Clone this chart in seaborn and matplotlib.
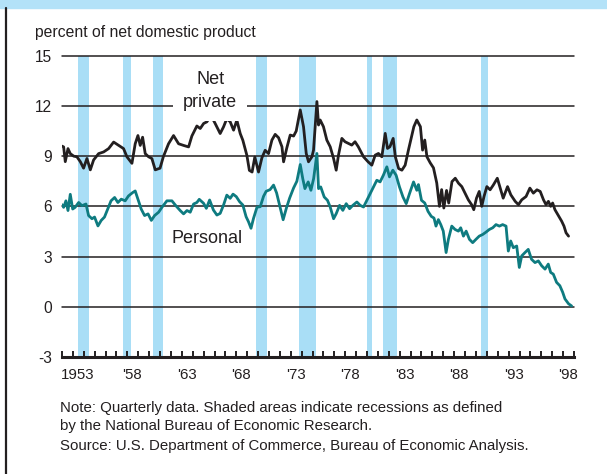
import pandas as pd
import matplotlib
matplotlib.use('Agg')
import matplotlib.pyplot as plt
from matplotlib.patches import Rectangle
from matplotlib.lines import Line2D
import seaborn as sns

# Net private saving, percent of NDP
net_years = [
    1952.0, 1952.15, 1952.3, 1952.55, 1952.76, 1953.07, 1953.37, 1953.68, 1953.98, 1954.29,
    1954.6, 1954.9, 1955.36, 1955.82, 1956.28, 1956.74, 1957.2, 1957.65, 1957.96, 1958.42,
    1958.72, 1958.97, 1959.18, 1959.4, 1959.64, 1959.95, 1960.25, 1960.56, 1961.0, 1961.3,
    1961.78, 1962.24, 1962.7, 1963.16, 1963.62, 1963.92, 1964.38, 1964.69, 1965.0, 1965.3,
    1965.67, 1966.06, 1966.52, 1966.83, 1967.13, 1967.44, 1967.75, 1968.05, 1968.36, 1968.6,
    1968.97, 1969.2, 1969.45, 1969.7, 1970.04, 1970.35, 1970.65, 1970.96, 1971.27, 1971.57,
    1971.88, 1972.19, 1972.34, 1972.64, 1972.95, 1973.26, 1973.5, 1973.87, 1974.17, 1974.42,
    1974.63, 1974.94, 1975.09, 1975.4, 1975.55, 1975.7, 1976.0, 1976.31, 1976.62, 1976.93,
    1977.17, 1977.38, 1977.69, 1977.98, 1978.3, 1978.6, 1978.9, 1979.2, 1979.68, 1980.1,
    1980.44, 1980.75, 1981.05, 1981.36, 1981.67, 1981.88, 1982.1, 1982.4, 1982.6, 1982.9,
    1983.2, 1983.5, 1983.8, 1984.3, 1984.57, 1984.9, 1985.1, 1985.3, 1985.5, 1985.8,
    1986.1, 1986.4, 1986.65, 1986.85, 1987.05, 1987.3, 1987.5, 1987.8, 1988.1, 1988.4,
    1988.7, 1989.0, 1989.3, 1989.6, 1989.8, 1990.05, 1990.3, 1990.53, 1990.74, 1991.0,
    1991.3, 1991.6, 1991.96, 1992.27, 1992.5, 1992.9, 1993.2, 1993.6, 1993.9, 1994.2,
    1994.6, 1994.95, 1995.27, 1995.6, 1995.9, 1996.2, 1996.43, 1996.65, 1996.86, 1997.04,
    1997.25, 1997.6, 1997.87, 1998.08, 1998.27, 1998.5,
]
net_values = [
    9.6, 9.55, 8.67, 9.45, 9.15, 9.0, 8.96, 8.67, 8.28, 8.86,
    8.18, 8.77, 9.15, 9.25, 9.45, 9.84, 9.64, 9.45, 8.96, 8.57,
    9.74, 10.23, 9.64, 10.13, 9.15, 8.96, 8.86, 8.18, 8.28, 8.96,
    9.74, 10.23, 9.74, 9.64, 9.55, 10.2, 10.8, 10.65, 10.95, 11.05,
    11.44, 10.95, 10.35, 10.75, 11.24, 11.05, 10.55, 11.15, 10.35, 9.95,
    9.05, 8.15, 8.05, 8.95, 8.05, 8.9, 9.35, 9.15, 9.96, 10.3,
    10.1, 9.56, 8.66, 9.5, 10.26, 10.2, 10.5, 11.76, 10.76, 9.16,
    8.66, 8.96, 9.36, 12.26, 10.86, 11.16, 10.76, 9.96, 9.56, 8.86,
    8.16, 9.06, 10.06, 9.86, 9.76, 9.66, 9.86, 9.56, 8.96, 8.66,
    8.46, 9.06, 9.16, 8.96, 10.36, 9.46, 9.56, 10.06, 8.96, 8.26,
    8.16, 8.46, 9.36, 10.76, 11.16, 10.76, 9.36, 9.96, 8.96, 8.6,
    8.3, 7.4, 6.0, 7.0, 5.9, 6.95, 6.2, 7.48, 7.68, 7.38,
    7.18, 6.79, 6.39, 6.1, 5.8, 6.49, 6.89, 6.0, 6.59, 7.18,
    6.99, 7.28, 7.68, 6.99, 6.49, 7.18, 6.69, 6.3, 6.1, 6.39,
    6.59, 7.09, 6.79, 6.99, 6.89, 6.39, 6.1, 6.3, 6.0, 6.2,
    5.8, 5.41, 5.11, 4.82, 4.42, 4.22,
]

# Personal saving, percent of NDP
pers_years = [
    1952.0, 1952.15, 1952.36, 1952.55, 1952.76, 1952.98, 1953.2, 1953.53, 1953.83, 1954.2,
    1954.44, 1954.75, 1954.99, 1955.3, 1955.6, 1955.9, 1956.2, 1956.5, 1956.83, 1957.13,
    1957.44, 1957.8, 1958.1, 1958.48, 1958.72, 1958.97, 1959.27, 1959.58, 1959.9, 1960.2,
    1960.5, 1960.87, 1961.17, 1961.63, 1962.09, 1962.45, 1962.85, 1963.16, 1963.47, 1963.77,
    1964.08, 1964.38, 1964.6, 1965.0, 1965.25, 1965.55, 1965.9, 1966.22, 1966.52, 1966.83,
    1967.13, 1967.44, 1967.7, 1968.0, 1968.3, 1968.6, 1968.9, 1969.12, 1969.35, 1969.58,
    1969.9, 1970.2, 1970.5, 1970.74, 1971.1, 1971.42, 1971.7, 1971.97, 1972.3, 1972.6,
    1972.9, 1973.26, 1973.56, 1973.87, 1974.1, 1974.3, 1974.6, 1974.85, 1975.1, 1975.4,
    1975.55, 1975.75, 1976.07, 1976.37, 1976.62, 1976.93, 1977.17, 1977.48, 1977.78, 1978.09,
    1978.4, 1978.7, 1979.07, 1979.37, 1979.68, 1979.98, 1980.29, 1980.6, 1980.9, 1981.2,
    1981.5, 1981.82, 1982.06, 1982.37, 1982.67, 1982.98, 1983.3, 1983.6, 1983.9, 1984.27,
    1984.57, 1984.72, 1985.0, 1985.3, 1985.6, 1985.9, 1986.15, 1986.33, 1986.55, 1986.77,
    1987.0, 1987.26, 1987.47, 1987.78, 1988.08, 1988.39, 1988.6, 1988.85, 1989.1, 1989.4,
    1989.7, 1990.0, 1990.3, 1990.62, 1990.92, 1991.23, 1991.54, 1991.84, 1992.15, 1992.45,
    1992.76, 1992.97, 1993.19, 1993.43, 1993.74, 1993.98, 1994.2, 1994.5, 1994.8, 1995.1,
    1995.42, 1995.73, 1996.03, 1996.34, 1996.64, 1996.86, 1997.1, 1997.4, 1997.7, 1997.96,
    1998.17, 1998.5, 1998.78,
]
pers_values = [
    6.1, 5.94, 6.33, 5.75, 6.72, 5.84, 5.94, 6.23, 6.04, 6.14,
    5.45, 5.26, 5.36, 4.83, 5.16, 5.36, 5.84, 6.33, 6.53, 6.23,
    6.43, 6.33, 6.62, 6.82, 6.92, 6.43, 5.84, 5.45, 5.55, 5.16,
    5.45, 5.65, 5.94, 6.33, 6.33, 6.04, 5.75, 5.55, 5.75, 5.65,
    6.14, 6.23, 6.42, 6.18, 5.88, 6.38, 5.78, 5.48, 5.58, 6.08,
    6.67, 6.48, 6.73, 6.58, 6.28, 6.08, 5.38, 5.08, 4.69, 5.28,
    5.95, 5.98, 6.6, 6.9, 7.0, 7.27, 6.8, 6.08, 5.2, 5.9,
    6.5, 7.1, 7.5, 8.5, 7.66, 7.06, 7.46, 6.96, 7.66, 9.16,
    7.06, 7.16, 6.56, 6.36, 5.96, 5.26, 5.56, 6.06, 5.76, 6.16,
    5.86, 6.06, 6.26, 6.06, 5.96, 6.36, 6.76, 7.16, 7.56, 7.46,
    7.86, 8.36, 7.76, 8.16, 7.86, 7.16, 6.56, 6.16, 6.76, 7.46,
    6.96, 7.3, 6.36, 6.2, 5.7, 5.4, 5.3, 4.82, 5.21, 4.91,
    4.52, 3.24, 4.03, 4.82, 4.62, 4.52, 4.72, 4.22, 4.52, 4.03,
    3.83, 4.03, 4.22, 4.32, 4.46, 4.62, 4.72, 4.91, 4.82, 4.91,
    4.82, 3.33, 3.93, 3.53, 3.63, 2.35, 3.04, 3.24, 3.43, 2.84,
    2.64, 2.74, 2.45, 2.25, 2.55, 2.05, 1.95, 1.46, 1.26, 0.87,
    0.47, 0.18, 0.05,
]

# NBER recessions
rec_start = [1953.5, 1957.6, 1960.35, 1969.8, 1973.8, 1980.0, 1981.5, 1990.45]
rec_end = [1954.5, 1958.35, 1961.25, 1970.85, 1975.3, 1980.45, 1982.75, 1991.15]

y_ticks = [-3, 0, 3, 6, 9, 12, 15]
label_years = [1953, 1958, 1963, 1968, 1973, 1978, 1983, 1988, 1993, 1998]
label_text = ['1953', "'58", "'63", "'68", "'73", "'78", "'83", "'88", "'93", "'98"]

INK = '#231f20'
TEAL = '#0e7b80'
BAND = '#a9def6'

sns.set_theme(style='white')
plt.rcParams['font.family'] = ['Liberation Sans', 'DejaVu Sans']

net_df = pd.DataFrame({'year': net_years, 'value': net_values})
pers_df = pd.DataFrame({'year': pers_years, 'value': pers_values})

W, H = 607, 474
fig = plt.figure(figsize=(W / 100, H / 100), dpi=100)
fig.patch.set_facecolor('white')
ax = fig.add_axes([62 / W, 1 - 357 / H, (574 - 62) / W, (357 - 55.7) / H])

# frame decorations: blue strip on top, black rule on the left
fig.patches.append(Rectangle((0, 1 - 8 / H), 1, 8 / H, transform=fig.transFigure,
                             color='#b3e2f8', zorder=0))
fig.lines.append(Line2D([6 / W, 6 / W], [0, 1 - 8 / H], transform=fig.transFigure,
                        color=INK, lw=1.6))

for s, e in zip(rec_start, rec_end):
    ax.axvspan(s, e, color=BAND, lw=0, zorder=0)

for v in y_ticks[1:]:
    ax.axhline(v, color=INK, lw=1.1, zorder=1, clip_on=False)

sns.lineplot(data=net_df, x='year', y='value', ax=ax, color=INK, lw=2.0,
             estimator=None, sort=True, zorder=3)
sns.lineplot(data=pers_df, x='year', y='value', ax=ax, color=TEAL, lw=2.0,
             estimator=None, sort=True, zorder=3)

ax.set_xlim(1952, 1999)
ax.set_ylim(-3, 15)
ax.set_xlabel('')
ax.set_ylabel('')

for side in ['top', 'right', 'left']:
    ax.spines[side].set_visible(False)
ax.spines['bottom'].set_color(INK)
ax.spines['bottom'].set_linewidth(2.2)

ax.set_yticks(y_ticks)
ax.set_yticklabels([str(t) for t in y_ticks])
ax.tick_params(axis='y', length=0, pad=7, labelsize=11.2, labelcolor=INK)

ax.set_xticks([y + 0.45 for y in label_years])
ax.set_xticklabels(label_text)
ax.set_xticks(list(range(1952, 2000)), minor=True)
ax.tick_params(axis='x', which='major', length=0, pad=8, labelsize=10.8, labelcolor=INK)
ax.tick_params(axis='x', which='minor', direction='in', length=4, width=1.4, color=INK,
               bottom=True)

ax.text(1965.6, 13.55, 'Net', ha='center', va='center', fontsize=13, color=INK, zorder=6)
ax.text(1965.6, 12.2, 'private', ha='center', va='center', fontsize=13, color=INK, zorder=5,
        bbox=dict(boxstyle='square,pad=0.55', fc='white', ec='none'))
ax.text(1965.3, 4.1, 'Personal', ha='center', va='center', fontsize=13, color=INK, zorder=5)

fig.text(35 / W, 1 - 33 / H, 'percent of net domestic product', ha='left', va='center',
         fontsize=11.3, color=INK)

fig.text(60 / W, 1 - 408 / H,
         'Note: Quarterly data. Shaded areas indicate recessions as defined',
         ha='left', va='center', fontsize=10.8, color=INK)
fig.text(60 / W, 1 - 426 / H, 'by the National Bureau of Economic Research.',
         ha='left', va='center', fontsize=10.8, color=INK)
fig.text(60 / W, 1 - 446 / H,
         'Source: U.S. Department of Commerce, Bureau of Economic Analysis.',
         ha='left', va='center', fontsize=10.8, color=INK)

fig.savefig('out.png', dpi=100)
